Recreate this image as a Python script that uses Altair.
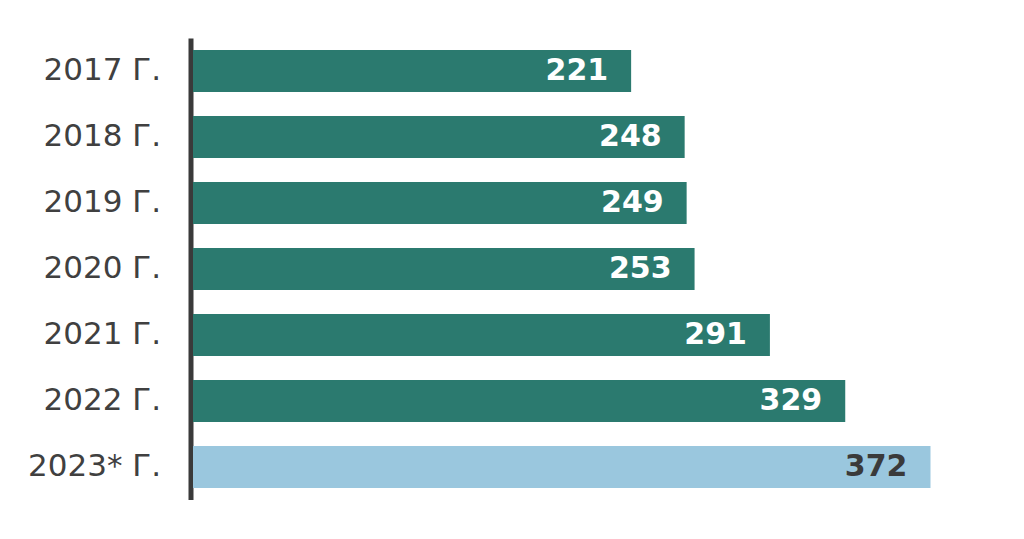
import altair as alt
import pandas as pd

years = ["2017 Г.", "2018 Г.", "2019 Г.", "2020 Г.", "2021 Г.", "2022 Г.", "2023* Г."]
values = [221, 248, 249, 253, 291, 329, 372]
kinds = ["fact", "fact", "fact", "fact", "fact", "fact", "estimate"]

df = pd.DataFrame({"year": years, "value": values, "kind": kinds})

bar_colors = alt.Scale(domain=["fact", "estimate"], range=["#2b7a6f", "#9ac7de"])
text_colors = alt.Scale(domain=["fact", "estimate"], range=["#ffffff", "#3a3a3a"])

y_axis = alt.Axis(
    ticks=False,
    grid=False,
    domainColor="#3a3a3a",
    domainWidth=5,
    offset=2.5,
    labelFont="DejaVu Sans",
    labelFontSize=31,
    labelColor="#404040",
    labelPadding=30,
)
y_scale = alt.Scale(paddingInner=0.36, paddingOuter=0.18)

x_enc = alt.X(
    "value:Q",
    title=None,
    scale=alt.Scale(domain=[0, 400], nice=False),
    axis=None,
)

bars = alt.Chart(df).mark_bar().encode(
    y=alt.Y("year:N", sort=years, title=None, scale=y_scale, axis=y_axis),
    x=x_enc,
    color=alt.Color("kind:N", scale=bar_colors, legend=None),
)

labels = alt.Chart(df).mark_text(
    align="right",
    baseline="middle",
    dx=-23,
    font="DejaVu Sans",
    fontSize=30,
    fontWeight="bold",
).encode(
    y=alt.Y("year:N", sort=years, title=None, scale=y_scale, axis=y_axis),
    x=x_enc,
    text="value:Q",
    color=alt.Color("kind:N", scale=text_colors, legend=None),
)

chart = (
    alt.layer(bars, labels)
    .resolve_scale(color="independent")
    .properties(
        width=793,
        height=462,
        autosize=alt.AutoSizeParams(type="none"),
        padding={"left": 185, "top": 30, "right": 0, "bottom": 0},
        background="#ffffff",
    )
    .configure_view(stroke=None, strokeWidth=0)
    .configure_axis(grid=False)
)

chart.save("out.html", embed_options={"renderer": "svg", "actions": False})
